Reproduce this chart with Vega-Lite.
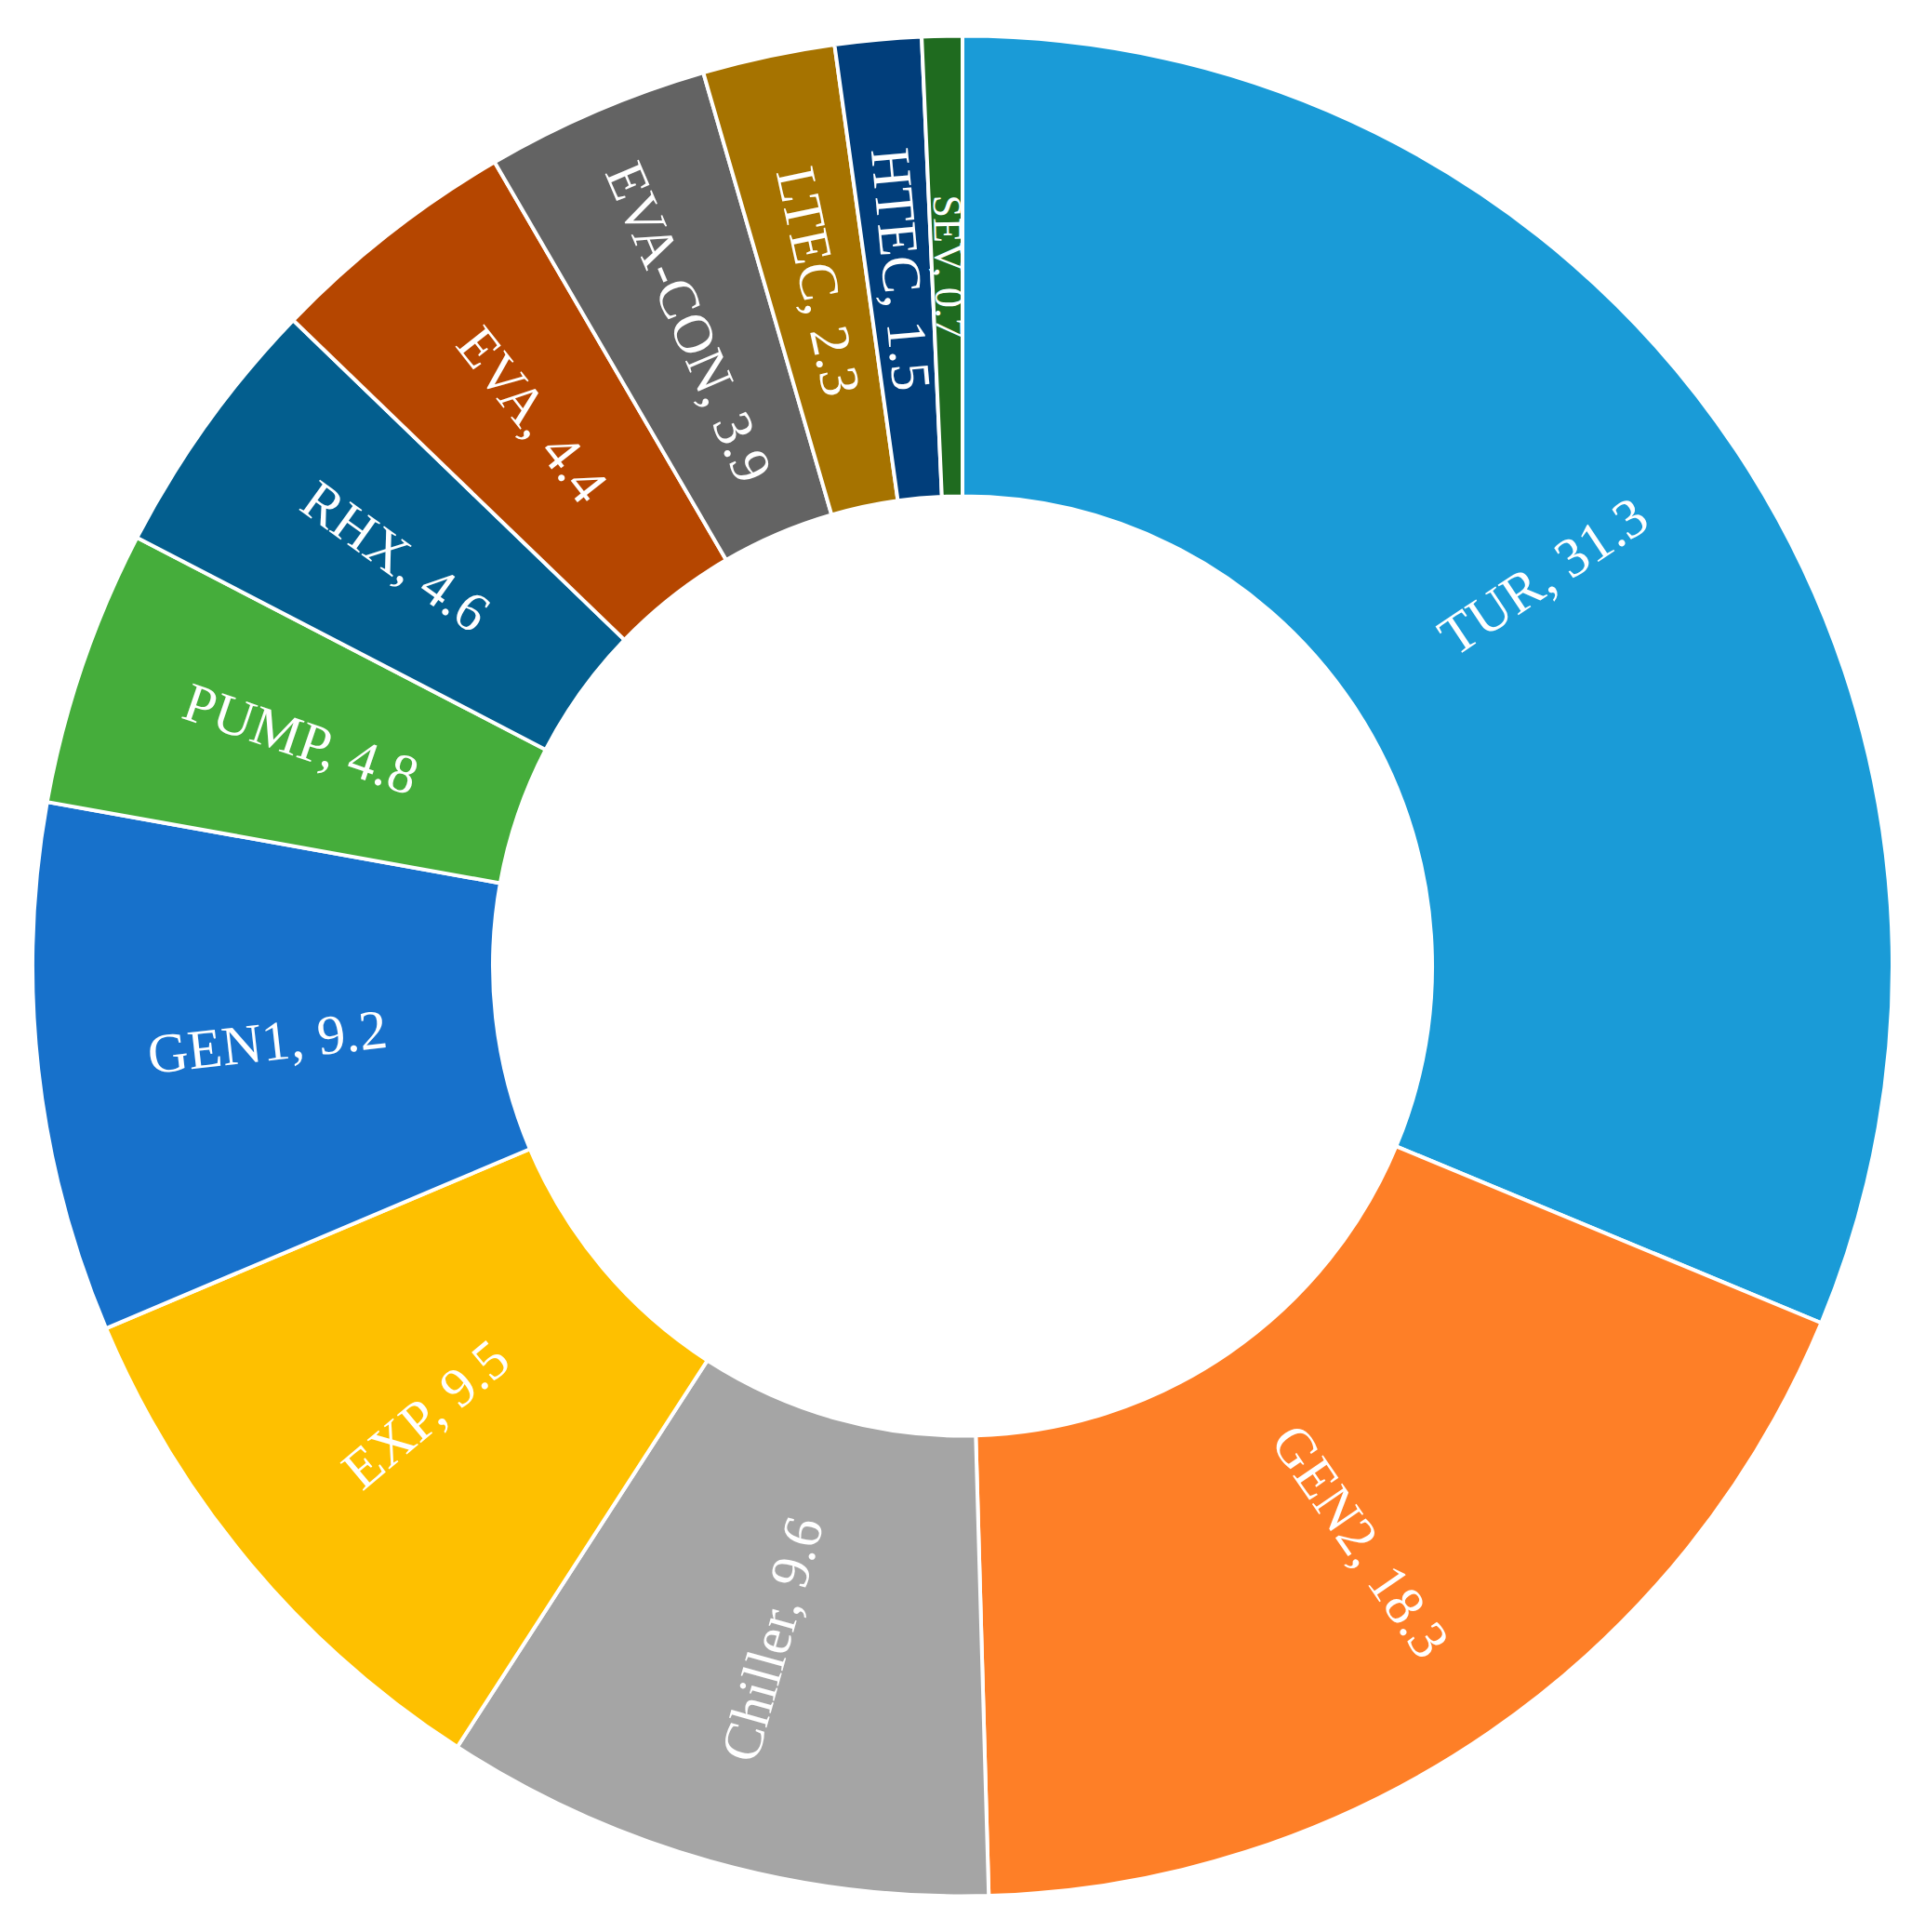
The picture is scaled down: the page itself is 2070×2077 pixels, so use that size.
{
  "$schema": "https://vega.github.io/schema/vega-lite/v6.json",
  "autosize": {"type": "fit", "contains": "padding"},
  "width": 2070,
  "height": 2077,
  "padding": 0,
  "background": "white",
  "config": {"view": {"stroke": null}},
  "data": {
    "values": [
      {"name": "TUR", "value": 31.3},
      {"name": "GEN2", "value": 18.3},
      {"name": "Chiller", "value": 9.6},
      {"name": "EXP", "value": 9.5},
      {"name": "GEN1", "value": 9.2},
      {"name": "PUMP", "value": 4.8},
      {"name": "RHX", "value": 4.6},
      {"name": "EVA", "value": 4.4},
      {"name": "EVA-CON", "value": 3.9},
      {"name": "LTEC", "value": 2.3},
      {"name": "HTEC", "value": 1.5},
      {"name": "SEV", "value": 0.7}
    ]
  },
  "transform": [
    {"window": [{"op": "row_number", "as": "idx"}, {"op": "sum", "field": "value", "as": "cum"}], "frame": [null, 0]},
    {"joinaggregate": [{"op": "sum", "field": "value", "as": "total"}]},
    {"calculate": "(datum.cum - datum.value / 2) / datum.total * 360", "as": "mid"},
    {"calculate": "datum.mid < 180 ? datum.mid - 90 : datum.mid - 270", "as": "rot"},
    {"calculate": "datum.name + ', ' + format(datum.value, '.1f')", "as": "label"},
    {"calculate": "datum.name == 'SEV' ? 44 : 60", "as": "fsize"}
  ],
  "encoding": {
    "theta": {"field": "value", "type": "quantitative", "stack": true},
    "order": {"field": "idx", "type": "quantitative", "sort": "ascending"}
  },
  "layer": [
    {
      "mark": {"type": "arc", "outerRadius": 1000, "innerRadius": 505, "stroke": "white", "strokeWidth": 4},
      "encoding": {
        "color": {
          "field": "name",
          "type": "nominal",
          "legend": null,
          "scale": {
            "domain": ["TUR", "GEN2", "Chiller", "EXP", "GEN1", "PUMP", "RHX", "EVA", "EVA-CON", "LTEC", "HTEC", "SEV"],
            "range": ["#1a9bd7", "#fe7f27", "#a5a5a5", "#fec000", "#1771cb", "#45ad3b", "#035e8e", "#b54600", "#636363", "#a67300", "#013e7b", "#1f6b1f"]
          }
        }
      }
    },
    {
      "mark": {"type": "text", "radius": 752, "font": "Liberation Serif", "color": "white", "align": "center", "baseline": "middle"},
      "encoding": {
        "text": {"field": "label", "type": "nominal"},
        "angle": {"field": "rot", "type": "quantitative", "scale": null},
        "size": {"field": "fsize", "type": "quantitative", "scale": null}
      }
    }
  ]
}
